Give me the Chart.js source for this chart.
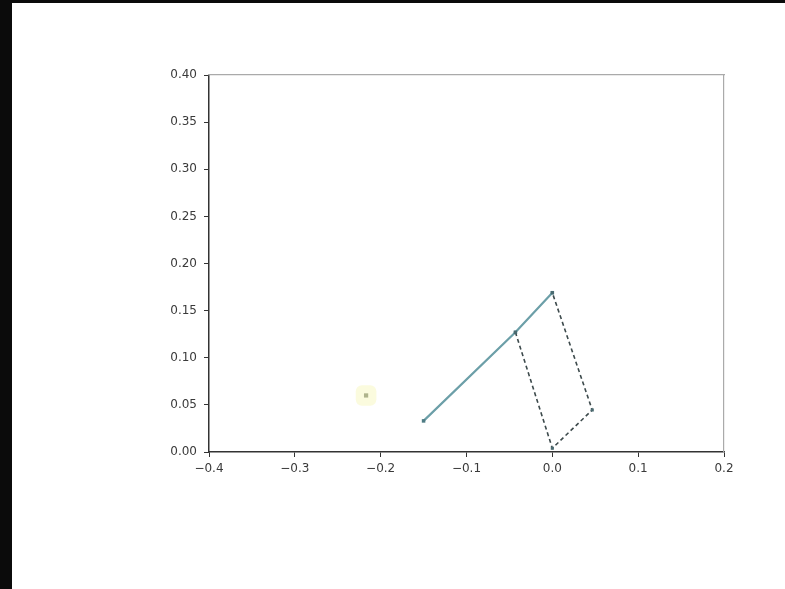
<!DOCTYPE html>
<html>
<head>
<meta charset="utf-8">
<script src="https://cdn.jsdelivr.net/npm/chart.js@4.4.1/dist/chart.umd.min.js"></script>
<style>
  html, body { margin: 0; padding: 0; background: #0b0b0b; width: 785px; height: 589px; overflow: hidden; }
  #sheet { position: absolute; left: 12px; top: 3px; width: 773px; height: 586px; background: #fff; }
  #plot { position: absolute; left: 0; top: 0; }
</style>
</head>
<body>
<div id="sheet"></div>
<canvas id="plot" width="785" height="589"></canvas>
<script>
// values
const armX = [-0.15, -0.043, 0.0];
const armY = [0.033, 0.127, 0.169];
const boxX = [-0.043, 0.0, 0.0465, 0.0];
const boxY = [0.127, 0.004, 0.0446, 0.169];
const starX = [-0.217];
const starY = [0.06];
const xTicks = [-0.4, -0.3, -0.2, -0.1, 0.0, 0.1, 0.2];
const yTicks = [0.00, 0.05, 0.10, 0.15, 0.20, 0.25, 0.30, 0.35, 0.40];

const toPts = (xs, ys) => xs.map((x, i) => ({ x: x, y: ys[i] }));
const fmt = (v, d) => (v < 0 ? '\u2212' : '') + Math.abs(v).toFixed(d);

const ctx = document.getElementById('plot').getContext('2d');
new Chart(ctx, {
  type: 'scatter',
  data: {
    datasets: [{
      label: 'halo',
      data: toPts(starX, starY),
      backgroundColor: 'rgba(248, 248, 190, 0.5)',
      borderWidth: 0,
      pointStyle: 'rectRounded',
      pointRadius: 12
    }, {
      label: 'star',
      data: toPts(starX, starY),
      backgroundColor: '#66705a',
      borderWidth: 0,
      pointStyle: 'rect',
      pointRadius: 3
    }, {
      label: 'box',
      data: toPts(boxX, boxY),
      showLine: true,
      borderColor: '#3d4a4c',
      borderWidth: 1.6,
      borderDash: [4, 3],
      pointRadius: 2.2,
      pointStyle: 'rect',
      backgroundColor: '#4a6a70',
      pointBorderWidth: 0
    }, {
      label: 'arm',
      data: toPts(armX, armY),
      showLine: true,
      borderColor: '#6c9fa8',
      borderWidth: 2.2,
      pointRadius: 2.5,
      pointStyle: 'rect',
      backgroundColor: '#4f7c84',
      pointBorderWidth: 0
    }]
  },
  options: {
    responsive: false,
    animation: false,
    layout: { padding: { left: 0, top: 75, right: 61, bottom: 97 } },
    scales: {
      x: {
        type: 'linear',
        min: -0.4,
        max: 0.2,
        afterFit: (s) => { s.height = 40; },
        afterBuildTicks: (s) => { s.ticks = xTicks.map(v => ({ value: v })); },
        grid: { drawOnChartArea: false, tickLength: 5, tickColor: '#333' },
        border: { color: '#333', width: 1.5 },
        ticks: {
          color: '#3a3a3a',
          font: { family: 'DejaVu Sans', size: 12 },
          padding: 5,
          callback: (v) => fmt(v, 1)
        }
      },
      y: {
        type: 'linear',
        min: 0,
        max: 0.4,
        afterFit: (s) => { s.width = 209; },
        afterBuildTicks: (s) => { s.ticks = yTicks.map(v => ({ value: v })); },
        grid: { drawOnChartArea: false, tickLength: 5, tickColor: '#333' },
        border: { color: '#333', width: 1.5 },
        ticks: {
          color: '#3a3a3a',
          font: { family: 'DejaVu Sans', size: 12 },
          padding: 7,
          callback: (v) => fmt(v, 2)
        }
      },
      xTop: {
        type: 'linear',
        position: 'top',
        min: -0.4,
        max: 0.2,
        afterFit: (s) => { s.height = 0; },
        grid: { display: false },
        border: { color: '#aaa', width: 1.2 },
        ticks: { display: false }
      },
      yRight: {
        type: 'linear',
        position: 'right',
        min: 0,
        max: 0.4,
        afterFit: (s) => { s.width = 0; },
        grid: { display: false },
        border: { color: '#aaa', width: 1.2 },
        ticks: { display: false }
      }
    },
    plugins: {
      legend: { display: false },
      tooltip: { enabled: false }
    }
  }
});
</script>
</body>
</html>
